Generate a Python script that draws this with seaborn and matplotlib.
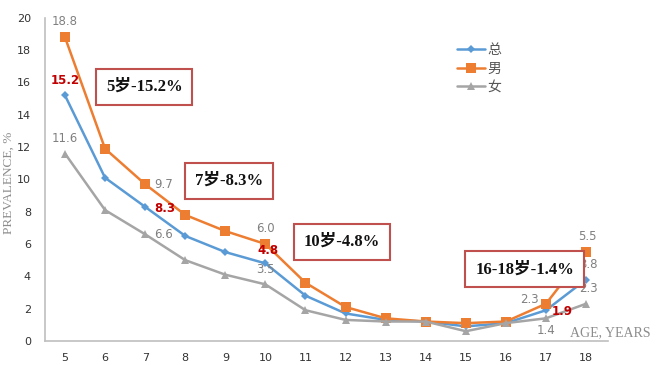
import matplotlib
matplotlib.use("Agg")
import matplotlib.pyplot as plt
import numpy as np
import pandas as pd
import seaborn as sns

ages = [5, 6, 7, 8, 9, 10, 11, 12, 13, 14, 15, 16, 17, 18]
total = [15.2, 10.1, 8.3, 6.5, 5.5, 4.8, 2.8, 1.7, 1.3, 1.2, 0.9, 1.1, 1.9, 3.8]
male = [18.8, 11.9, 9.7, 7.8, 6.8, 6.0, 3.6, 2.1, 1.4, 1.2, 1.1, 1.2, 2.3, 5.5]
female = [11.6, 8.1, 6.6, 5.0, 4.1, 3.5, 1.9, 1.3, 1.2, 1.2, 0.6, 1.1, 1.4, 2.3]
series_names = ["总", "男", "女"]
boxes = ["5岁-15.2%", "7岁-8.3%", "10岁-4.8%", "16-18岁-1.4%"]

sns.set_theme(style="white")
plt.rcParams["font.family"] = ["DejaVu Sans", "Noto Sans CJK SC"]

df = pd.DataFrame({
    "age": ages * 3,
    "value": total + male + female,
    "group": [series_names[0]] * len(ages) + [series_names[1]] * len(ages) + [series_names[2]] * len(ages),
})

colors = {"总": "#5B9BD5", "男": "#ED7D31", "女": "#A5A5A5"}
markers = {"总": "D", "男": "s", "女": "^"}
sizes = {"总": 4, "男": 6.5, "女": 6}

fig = plt.figure(figsize=(6.61, 3.65), dpi=100)
ax = fig.add_axes([0.068, 0.066, 0.852, 0.885])

for name in series_names:
    sub = df[df["group"] == name]
    sns.lineplot(data=sub, x="age", y="value", color=colors[name], marker=markers[name],
                 markersize=sizes[name], markeredgewidth=0, linewidth=1.8, label=name, ax=ax)

ax.set_xlim(4.5, 18.55)
ax.set_ylim(0, 20)
ax.set_xticks(ages)
ax.set_yticks(range(0, 21, 2))
ax.tick_params(axis="both", length=0, labelsize=8, colors="#333333")
ax.tick_params(axis="x", pad=9)
ax.tick_params(axis="y", pad=10)
for side in ["top", "right"]:
    ax.spines[side].set_visible(False)
for side in ["left", "bottom"]:
    ax.spines[side].set_color("#BFBFBF")
    ax.spines[side].set_linewidth(1.2)
ax.set_xlabel("")
ax.set_ylabel("")

fig.text(0.013, 0.50, "PREVALENCE, %", rotation=90, family="Liberation Serif",
         fontsize=9.5, color="#8C8C8C", va="center", ha="center")
fig.text(0.985, 0.072, "AGE, YEARS", family="Liberation Serif", fontsize=10,
         color="#8C8C8C", ha="right", va="bottom")

leg = ax.legend(loc="upper left", bbox_to_anchor=(0.71, 0.96), frameon=False,
                fontsize=10, handlelength=2.0, labelspacing=0.3, handletextpad=0.15)
for t in leg.get_texts():
    t.set_color("#555555")

gray = "#808080"
red = "#C00000"
i = ages.index
gray_labels = [
    (5, male[i(5)], "18.8", 0, 11),
    (5, female[i(5)], "11.6", 0, 11),
    (7, male[i(7)], "9.7", 13, 0),
    (7, female[i(7)], "6.6", 13, 0),
    (10, male[i(10)], "6.0", 0, 11),
    (10, female[i(10)], "3.5", 0, 11),
    (17, male[i(17)], "2.3", -12, 3),
    (17, female[i(17)], "1.4", 0, -9),
    (18, male[i(18)], "5.5", 1, 11),
    (18, total[i(18)], "3.8", 2, 11),
    (18, female[i(18)], "2.3", 2, 11),
]
for x, y, s, dx, dy in gray_labels:
    ax.annotate(s, (x, y), xytext=(dx, dy), textcoords="offset points",
                ha="center", va="center", fontsize=8.5, color=gray)

red_labels = [
    (5, total[i(5)], "15.2", 0, 11),
    (7, total[i(7)], "8.3", 14, -1),
    (10, total[i(10)], "4.8", 2, 9),
    (17, total[i(17)], "1.9", 12, -1),
]
for x, y, s, dx, dy in red_labels:
    ax.annotate(s, (x, y), xytext=(dx, dy), textcoords="offset points",
                ha="center", va="center", fontsize=8.5, color=red, fontweight="bold")

box_pos = [(0.218, 0.763), (0.346, 0.504), (0.517, 0.338), (0.794, 0.262)]
for (bx, by), s in zip(box_pos, boxes):
    fig.text(bx, by, s, ha="center", va="center", fontsize=12, fontweight="bold",
             family=["Liberation Serif", "Noto Sans CJK SC"], color="#111111", zorder=5,
             bbox=dict(boxstyle="square,pad=0.6", facecolor="white",
                       edgecolor="#C0504D", linewidth=1.5))

plt.savefig("out.png", dpi=100)
